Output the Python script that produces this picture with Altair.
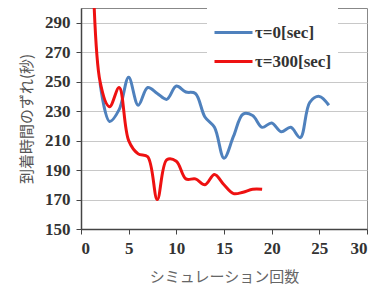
import altair as alt
import pandas as pd

series_names = ["τ=0[sec]", "τ=300[sec]"]
blue_x = [2, 3, 4, 5, 6, 7, 8, 9, 10, 11, 12, 13, 14, 15, 16, 17, 18, 19, 20, 21, 22, 23, 24, 25, 26]
blue_y = [249, 223, 231, 253, 234, 246, 242, 238, 247, 243, 242, 226, 219, 198, 213, 228, 227, 219, 222, 216, 219, 212, 236, 240, 234]
red_x = [1, 2, 3, 4, 5, 6, 7, 8, 9, 10, 11, 12, 13, 14, 15, 16, 17, 18, 19]
red_y = [400, 250, 233, 246, 210, 201, 199, 170, 197, 196, 184, 184, 180, 187, 180, 174, 175, 177, 177]
colors = ["#4F81BD", "#EE1111"]
x_ticks = [0, 5, 10, 15, 20, 25, 30]
y_ticks = [150, 170, 190, 210, 230, 250, 270, 290]

df = pd.concat([
    pd.DataFrame({"x": blue_x, "y": blue_y, "s": series_names[0]}),
    pd.DataFrame({"x": red_x, "y": red_y, "s": series_names[1]}),
])

serif = "Liberation Serif"
cjk = "Noto Sans CJK JP"

chart = alt.Chart(df).mark_line(
    interpolate="catmull-rom", strokeWidth=3, clip=True
).encode(
    x=alt.X("x:Q", scale=alt.Scale(domain=[0, 30], nice=False),
            axis=alt.Axis(values=x_ticks, title="シミュレーション回数", grid=False,
                          titleFont=cjk, titleFontSize=15, titleColor="#666", titleFontWeight="normal",
                          titlePadding=13, labelPadding=6, tickSize=5, tickColor="#444",
                          domainColor="#444", domainWidth=1.5)),
    y=alt.Y("y:Q", scale=alt.Scale(domain=[150, 300], nice=False, zero=False),
            axis=alt.Axis(values=y_ticks, title="到着時間のずれ(秒)", grid=True, gridColor="#c8c8c8",
                          titleFont=cjk, titleFontSize=15, titleColor="#555", titleFontWeight="normal",
                          titlePadding=10, labelPadding=6, tickSize=5, tickColor="#444",
                          domainColor="#444", domainWidth=1.5)),
    color=alt.Color("s:N", scale=alt.Scale(domain=series_names, range=colors),
                    legend=alt.Legend(title=None, orient="none", legendX=126, legendY=-2,
                                      symbolType="stroke", symbolSize=1444, symbolStrokeWidth=3,
                                      labelOffset=1, rowPadding=0, padding=6,
                                      fillColor="white")),
).properties(
    width=286, height=221,
    autosize=alt.AutoSizeParams(type="none"),
    padding={"left": 73, "top": 0, "right": 5, "bottom": 58},
).configure_view(
    stroke="#888", strokeWidth=1
).configure_axis(
    labelFont=serif, labelFontSize=17, labelColor="#333", labelFontWeight="bold"
).configure_legend(
    labelFont=serif, labelFontSize=17, labelColor="#333", labelFontWeight="bold"
)

chart.save("out.html", embed_options={"renderer": "svg", "actions": False})
